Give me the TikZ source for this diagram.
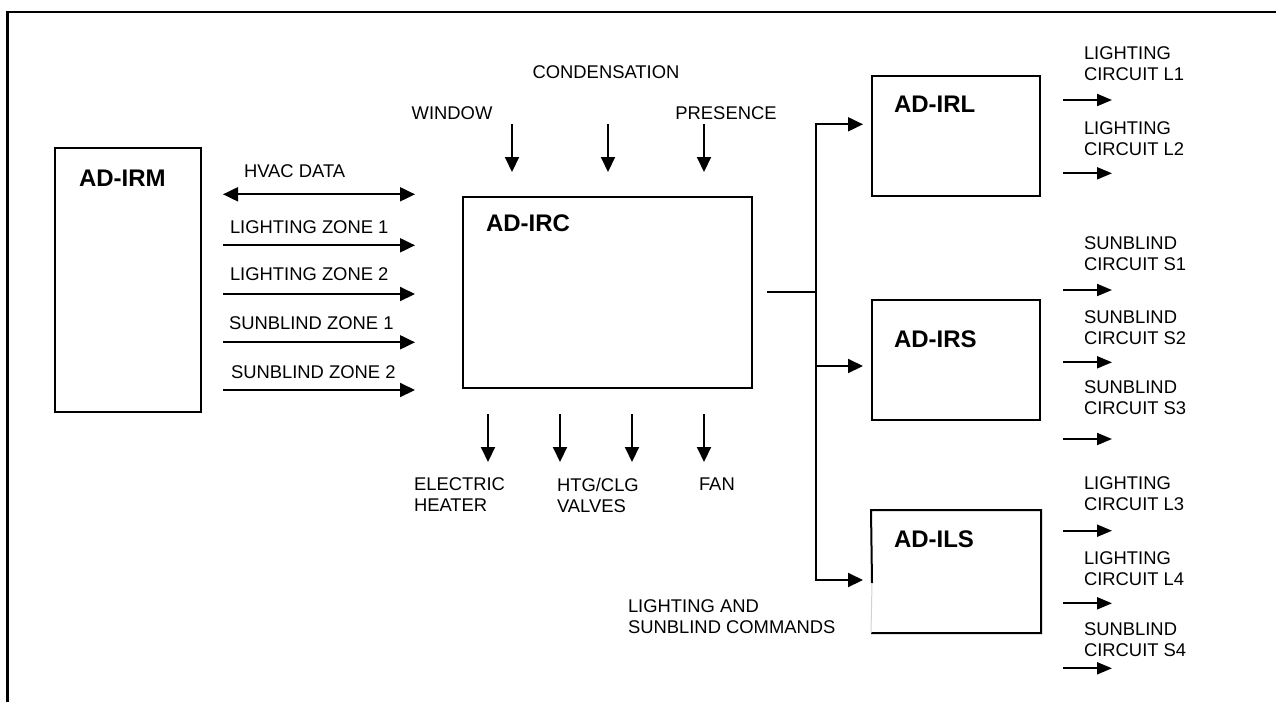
\documentclass[tikz,border=0pt]{standalone}
\usepackage{fontspec}
\setmainfont{Liberation Sans}
\usetikzlibrary{arrows.meta}

\begin{document}
\begin{tikzpicture}[x=1pt,y=-1pt,
  line width=2pt,
  unit/.style={draw, line width=2pt, inner sep=0pt},
  unitbare/.style={draw=none, inner sep=0pt},
  lbl/.style={font=\fontsize{18.4}{21}\selectfont, inner sep=0pt, align=left, anchor=west},
  clbl/.style={font=\fontsize{18.4}{21}\selectfont, inner sep=0pt, align=center},
  title/.style={font=\fontsize{24}{28}\selectfont\bfseries, inner sep=0pt, anchor=west},
  sig/.style={-{Triangle[length=15pt,width=14pt]}},
  sigsm/.style={-{Triangle[length=15pt,width=12pt]}},
  bidir/.style={{Triangle[length=15pt,width=14pt]}-{Triangle[length=15pt,width=14pt]}}
]
\useasboundingbox (0,0) rectangle (1276,702);

% outer frame (left and top edges)
\coordinate (frbl) at (7.5,702);
\coordinate (frtl) at (7.5,12);
\coordinate (frtr) at (1276,12);
\draw[line width=2.4pt] (frbl) -- (frtl) -- (frtr);

% ---------- units ----------
\node[unit, minimum width=146pt, minimum height=264pt] (irm) at (128,280) {};
\node[title] (irmt) at (78,178) {AD-IRM};

\node[unit, minimum width=289pt, minimum height=191pt] (irc) at (607.5,292.5) {};
\node[title] (irct) at (485,223) {AD-IRC};

\node[unit, minimum width=168pt, minimum height=120pt] (irl) at (956,136) {};
\node[title] (irlt) at (893,104) {AD-IRL};

\node[unit, minimum width=168pt, minimum height=120pt] (irs) at (956,360) {};
\node[title] (irst) at (893,339) {AD-IRS};

\node[unitbare, minimum width=168pt, minimum height=121pt] (ils) at (956,571.5) {};
\node[title] (ilst) at (893,539) {AD-ILS};
\coordinate (ilsgap) at (872,583);
\draw (ilsgap) -- (ils.north west) -- (ils.north east) -- (ils.south east) -- (ils.south west);
\draw[gray!35, line width=1pt] (ils.south west) -- (ilsgap);

% ---------- AD-IRM to AD-IRC links ----------
\coordinate (hvs) at (223,194.3);   \coordinate (hve) at (415,194.3);
\coordinate (lz1s) at (223,245.3);  \coordinate (lz1e) at (415,245.3);
\coordinate (lz2s) at (223,294);    \coordinate (lz2e) at (415,294);
\coordinate (sz1s) at (223,342.3);  \coordinate (sz1e) at (415,342.3);
\coordinate (sz2s) at (223,390);    \coordinate (sz2e) at (415,390);
\draw[bidir] (hvs) -- (hve);
\draw[sig] (lz1s) -- (lz1e);
\draw[sig] (lz2s) -- (lz2e);
\draw[sig] (sz1s) -- (sz1e);
\draw[sig] (sz2s) -- (sz2e);
\node[lbl] (hvl) at (243,171) {HVAC DATA};
\node[lbl] (lz1l) at (229,227) {LIGHTING ZONE 1};
\node[lbl] (lz2l) at (229,274.5) {LIGHTING ZONE 2};
\node[lbl] (sz1l) at (228,323) {SUNBLIND ZONE 1};
\node[lbl] (sz2l) at (230,372) {SUNBLIND ZONE 2};

% ---------- sensor inputs ----------
\coordinate (wins) at (512,124);  \coordinate (wine) at (512,172);
\coordinate (cons) at (608,124);  \coordinate (cone) at (608,172);
\coordinate (pres) at (704,124);  \coordinate (pree) at (704,172);
\draw[sig] (wins) -- (wine);
\draw[sig] (cons) -- (cone);
\draw[sig] (pres) -- (pree);
\node[clbl] (winl) at (452,113) {WINDOW};
\node[clbl] (conl) at (606,72) {CONDENSATION};
\node[clbl] (prel) at (726,113) {PRESENCE};

% ---------- actuator outputs ----------
\coordinate (ehs) at (488,414);  \coordinate (ehe) at (488,462);
\coordinate (v1s) at (560,414);  \coordinate (v1e) at (560,462);
\coordinate (v2s) at (632,414);  \coordinate (v2e) at (632,462);
\coordinate (fns) at (704,414);  \coordinate (fne) at (704,462);
\draw[sig] (ehs) -- (ehe);
\draw[sig] (v1s) -- (v1e);
\draw[sig] (v2s) -- (v2e);
\draw[sig] (fns) -- (fne);
\node[lbl] (ehl) at (413,495) {ELECTRIC\\HEATER};
\node[lbl] (vvl) at (556,495) {HTG/CLG\\VALVES};
\node[lbl] (fnl) at (698,484.5) {FAN};

% ---------- command bus to lighting / sunblind units ----------
\coordinate (bus0) at (767,292.3);
\coordinate (bus) at (815.7,292.3);
\coordinate (irlin) at (863,124.3);
\coordinate (irsin) at (863,366);
\coordinate (ilsin) at (863,580);
\draw (bus0) -- (bus);
\draw[sig] (bus) |- (irlin);
\draw[sig] (bus) |- (irsin);
\draw[sig] (bus) |- (ilsin);
\node[lbl] (cmdl) at (627,616.5) {LIGHTING AND\\SUNBLIND COMMANDS};

% ---------- circuit outputs ----------
\foreach \nm/\ay/\ly/\txt in {
  l1/100/63.5/{LIGHTING\\CIRCUIT L1},
  l2/173.3/138.8/{LIGHTING\\CIRCUIT L2},
  s1/290/253.5/{SUNBLIND\\CIRCUIT S1},
  s2/362.3/327.5/{SUNBLIND\\CIRCUIT S2},
  s3/439/397.5/{SUNBLIND\\CIRCUIT S3},
  l3/530.7/494/{LIGHTING\\CIRCUIT L3},
  l4/603.3/569/{LIGHTING\\CIRCUIT L4},
  s4/668.3/639.7/{SUNBLIND\\CIRCUIT S4}}{
  \coordinate (\nm s) at (1063,\ay);
  \coordinate (\nm e) at (1112,\ay);
  \draw[sigsm] (\nm s) -- (\nm e);
  \node[lbl] (\nm l) at (1083,\ly) {\txt};
}
\end{tikzpicture}
\end{document}
